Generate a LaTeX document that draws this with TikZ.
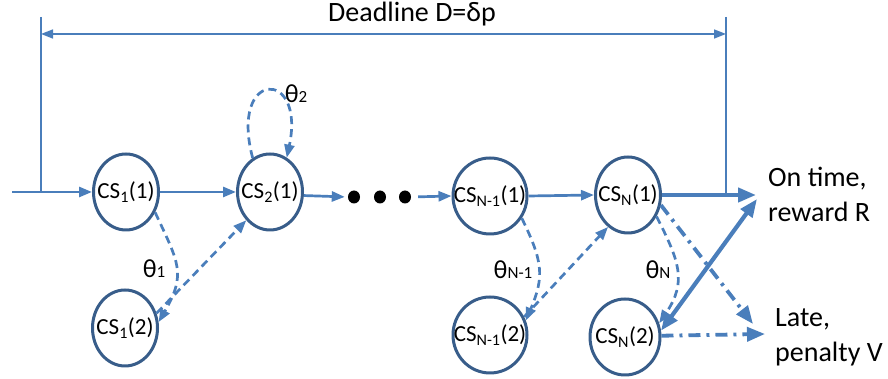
\documentclass[tikz,border=0pt]{standalone}
\usepackage{fontspec}
\setmainfont{Carlito}
\usetikzlibrary{arrows.meta,shapes.geometric}
\definecolor{lineblue}{HTML}{4A7EBB}
\definecolor{stateblue}{HTML}{385D8A}
\newcommand\thsub[1]{{\fontsize{17}{17}\selectfont #1}}
\begin{document}
\begin{tikzpicture}[x=1pt,y=1pt,
  state/.style={ellipse, draw=stateblue, line width=3pt, minimum width=65pt,
    minimum height=76pt, inner xsep=-12pt, inner ysep=0pt,
    font=\fontsize{23}{27}\selectfont},
  dotn/.style={ellipse, fill=black, minimum width=12pt, minimum height=13pt, inner sep=0pt},
  flow/.style={draw=lineblue, line width=2.7pt, -{Triangle[length=13pt,width=10pt]}},
  dashflow/.style={flow, dash pattern=on 8pt off 5pt},
  thickflow/.style={draw=lineblue, line width=4.2pt, -{Triangle[length=18pt,width=14pt]}},
  dashdot/.style={thickflow, line width=3.8pt, dash pattern=on 12pt off 6pt on 3pt off 6pt},
  guide/.style={draw=lineblue, line width=2pt},
  lbl/.style={font=\fontsize{28}{35}\selectfont, align=left, inner sep=0pt},
  theta/.style={font=\fontsize{26}{28}\selectfont, inner sep=0pt}
]
\useasboundingbox (0,0) rectangle (888,379);

% chain of states, first copies on top, second copies below
\node[state] (cs11) at (126,187) {CS\textsubscript{1}(1)};
\node[state] (cs21) at (270,187) {CS\textsubscript{2}(1)};
\node[state] (cs12) at (125,51) {CS\textsubscript{1}(2)};
\node[state, minimum width=74pt] (csn11) at (490,183) {CS\textsubscript{N-1}(1)};
\node[state] (csn1) at (628,184) {CS\textsubscript{N}(1)};
\node[state, minimum width=74pt] (csn12) at (490,44) {CS\textsubscript{N-1}(2)};
\node[state, minimum width=70pt] (csn2) at (625,42) {CS\textsubscript{N}(2)};

% ellipsis between stage 2 and stage N-1
\node[dotn] (dot1) at (354,182) {};
\node[dotn] (dot2) at (380,182) {};
\node[dotn] (dot3) at (405,182) {};

% deadline bracket
\coordinate (inL) at (12,187);
\coordinate (dlLtop) at (41,362);
\coordinate (dlRtop) at (726,362);
\coordinate (dlLa) at (41,345);
\coordinate (dlRa) at (726,345);
\node[font=\fontsize{28}{34}\selectfont, inner sep=0pt] (dltext) at (412,365) {Deadline D=δp};
\draw[guide] (dlLtop) -- (dlLtop |- inL);
\draw[guide] (dlRtop) -- (dlRtop |- csn1.east);
\draw[draw=lineblue, line width=1.6pt, {Triangle[length=12pt,width=9pt]}-{Triangle[length=12pt,width=9pt]}] (dlLa) -- (dlRa);

% outcome labels
\coordinate (tipR) at (756,184);
\coordinate (tipR2) at (757,180);
\coordinate (tipL1) at (753,55);
\coordinate (tipL2) at (765,45);
\node[lbl, anchor=base west] (ontime) at (768,157) {On time,\\reward R};
\node[lbl, anchor=base west] (late) at (775,17) {Late,\\penalty V};

% main flow
\draw[flow] (inL) -- (cs11.west);
\draw[flow] (cs11.east) -- (cs21.west);
\draw[flow, shorten >=3pt] (cs21.-6) -- (dot1.west);
\draw[flow, shorten <=7pt] (dot3.east) -- (csn11.west);
\draw[flow] (csn11.east) -- (csn1.west);
\draw[thickflow] (csn1.east) -- (tipR);

% failures and retries
\draw[dashflow] (cs11.-35) to[out=-65, in=60, looseness=1.3] (cs12.10);
\draw[dashflow] (cs12.25) -- (cs21.-130);
\draw[dashflow] (cs21.117) .. controls +(105:92) and +(78:92) .. (cs21.64);
\draw[dashflow] (csn11.-35) to[out=-64, in=67, looseness=1.2] (csn12.22);
\draw[dashflow] (csn12.28) -- (csn1.-122);
\draw[dashflow] (csn1.-37) to[out=-63, in=56, looseness=1.2] (csn2.22);

% final stage outcomes
\draw[dashdot] (csn1.-17) -- (tipL1);
\draw[dashdot] (csn2.2) -- (tipL2);
\draw[thickflow, {Triangle[length=18pt,width=14pt]}-{Triangle[length=18pt,width=14pt]}] (csn2.10) -- (tipR2);

% failure probabilities
\node[theta] (th1) at (154,110) {θ\thsub{1}};
\node[theta] (th2) at (296,285) {θ\thsub{2}};
\node[theta] (thn1) at (513,109) {θ\thsub{N-1}};
\node[theta] (thn) at (658,109) {θ\thsub{N}};
\end{tikzpicture}
\end{document}
